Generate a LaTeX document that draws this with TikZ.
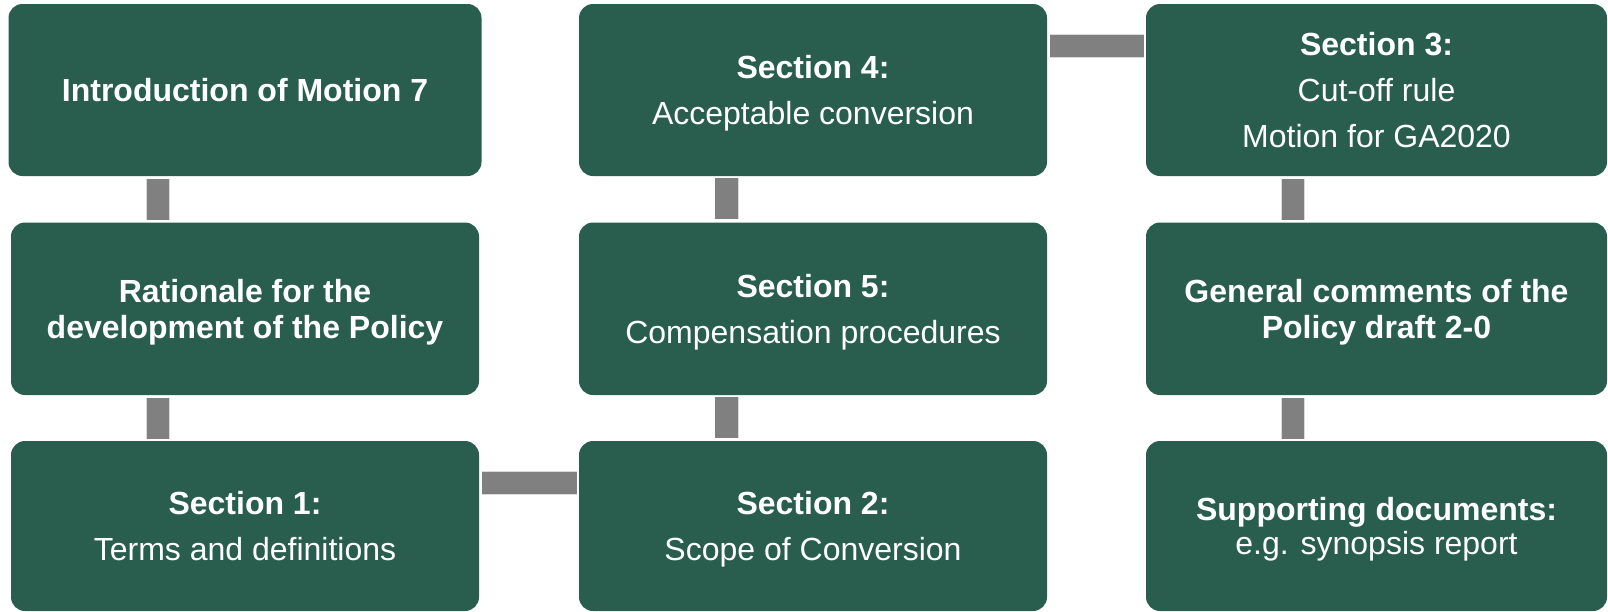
\documentclass[tikz,border=0pt]{standalone}
\usepackage{fontspec}
\setmainfont{Liberation Sans}
\definecolor{boxgreen}{RGB}{41,94,79}
\definecolor{linkgray}{RGB}{128,128,128}
\definecolor{edgegray}{RGB}{218,218,218}
\tikzset{
  stage/.style={fill=boxgreen, rounded corners=14pt, text=white, align=center, inner sep=0pt,
    text depth=0pt, minimum width=468pt, minimum height=172pt, font=\fontsize{32}{46}\selectfont},
  tight/.style={font=\fontsize{32}{36}\selectfont\bfseries},
  link/.style={draw=edgegray, line width=0.7pt, double=linkgray, double distance=22.6pt,
    shorten <=3pt, shorten >=2pt},
}
\begin{document}
\begin{tikzpicture}[x=1pt,y=-1pt]
\useasboundingbox (0,0) rectangle (1608,611);
\node[stage, minimum width=473pt] (intro) at (245,90) {\textbf{Introduction of Motion 7}};
\node[stage, tight, minimum height=172.5pt] (rationale) at (245,308.75) {Rationale for the\\development of the Policy};
\node[stage, minimum height=170pt] (sec1) at (245,526) {\textbf{Section 1:}\\Terms and definitions};
\node[stage] (sec4) at (813,90) {\textbf{Section 4:}\\Acceptable conversion};
\node[stage, minimum height=172.5pt] (sec5) at (813,308.75) {\textbf{Section 5:}\\Compensation procedures};
\node[stage, minimum height=170pt] (sec2) at (813,526) {\textbf{Section 2:}\\Scope of Conversion};
\node[stage, minimum width=461pt] (sec3) at (1376.5,90) {\textbf{Section 3:}\\Cut-off rule\\Motion for GA2020};
\node[stage, tight, minimum width=461pt, minimum height=172.5pt] (general) at (1376.5,308.75) {General comments of the\\Policy draft 2-0};
\node[stage, minimum width=461pt, minimum height=170pt, font=\fontsize{32}{34}\selectfont] (support) at (1376.5,526) {\textbf{Supporting documents:}\\e.g. synopsis report};
\draw[link] ([xshift=-87pt]intro.south) -- ([xshift=-87pt]rationale.north);
\draw[link] ([xshift=-87pt]rationale.south) -- ([xshift=-87pt]sec1.north);
\draw[link] ([yshift=43pt]sec1.east) -- ([yshift=43pt]sec2.west);
\draw[link] ([xshift=-86.3pt]sec2.north) -- ([xshift=-86.3pt]sec5.south);
\draw[link] ([xshift=-86.3pt]sec5.north) -- ([xshift=-86.3pt]sec4.south);
\draw[link] ([yshift=44pt]sec4.east) -- ([yshift=44pt]sec3.west);
\draw[link] ([xshift=-83.5pt]sec3.south) -- ([xshift=-83.5pt]general.north);
\draw[link] ([xshift=-83.5pt]general.south) -- ([xshift=-83.5pt]support.north);
\end{tikzpicture}
\end{document}
